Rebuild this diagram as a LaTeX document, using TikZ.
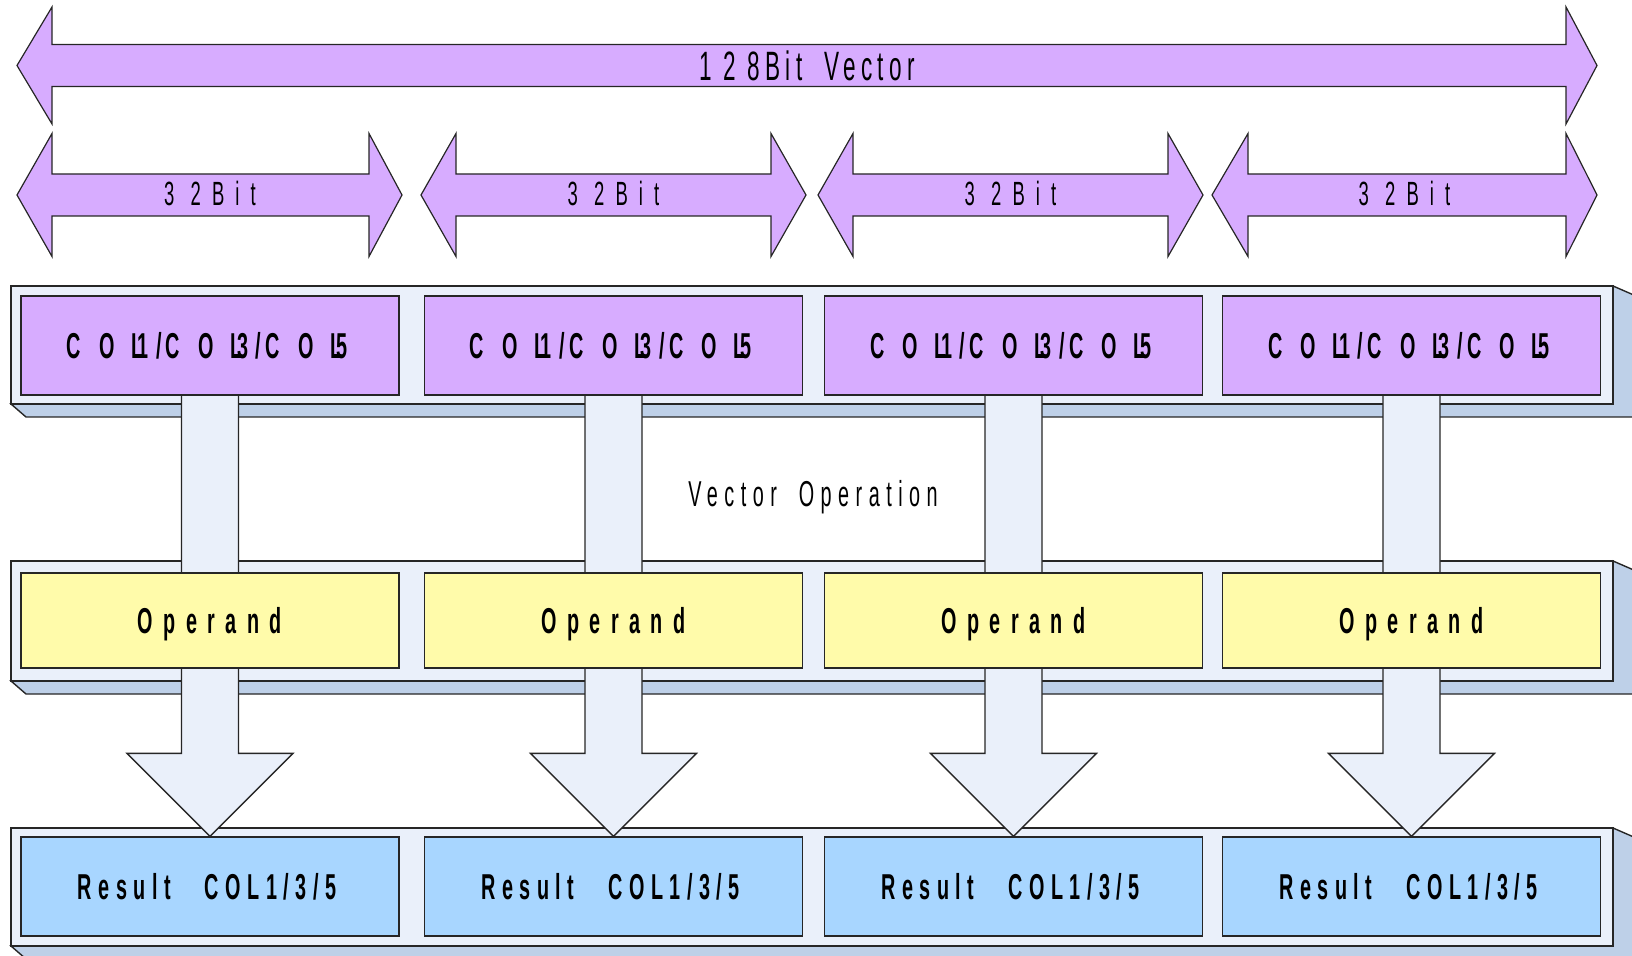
\documentclass[tikz,border=0pt]{standalone}
\usepackage{fontspec}
\newfontfamily\nf[FakeStretch=0.55]{Liberation Sans}
\usetikzlibrary{calc}
\pgfdeclarelayer{back}
\pgfdeclarelayer{mid}
\pgfsetlayers{back,mid,main}
\definecolor{purp}{RGB}{215,172,255}
\definecolor{barc}{RGB}{234,240,250}
\definecolor{depc}{RGB}{190,208,232}
\definecolor{yel}{RGB}{255,251,170}
\definecolor{blu}{RGB}{168,214,255}
\newcommand\tgap[1]{\hspace{#1pt}}
% xl, xbl, xbr, xr, yc, head half height, shaft half height
\newcommand\hdbl[7]{%
  \draw[hbar] (#1,#5) -- (#2,#5-#6) -- (#2,#5-#7) -- (#3,#5-#7) -- (#3,#5-#6) -- (#4,#5)
    -- (#3,#5+#6) -- (#3,#5+#7) -- (#2,#5+#7) -- (#2,#5+#6) -- cycle;}
\newcommand\vbar[2]{%
  \draw[depthst] (11,#2) -- (26,#2+13) -- (1636,#2+13) -- (1636,#1+10) -- (1613,#1) -- (1613,#2) -- cycle;
  \draw[frontst] (11,#1) rectangle (1613,#2);}
\newcommand\colgroup[1]{C\tgap{9.3}O\tgap{8.3}L\kern-3pt#1}
\begin{document}
\begin{tikzpicture}[x=0.5pt,y=-0.5pt,
  outl/.style={draw=black!85,line width=0.7pt},
  hbar/.style={draw=black!85,line width=0.6pt,fill=purp},
  frontst/.style={outl,fill=barc},
  depthst/.style={outl,fill=depc},
  varrow/.style={outl,fill=barc},
  cellbox/.style={outl,minimum width=189pt,inner sep=0pt,text height=12.9pt,text depth=0pt,
    font=\nf\bfseries\fontsize{18}{20}\selectfont},
  colbox/.style={cellbox,fill=purp,minimum height=49.5pt},
  opbox/.style={cellbox,fill=yel,minimum height=47.5pt},
  resbox/.style={cellbox,fill=blu,minimum height=49.5pt},
  bittext/.style={inner sep=0pt,text height=12pt,text depth=0pt,
    font=\nf\fontsize{16.8}{18}\selectfont\addfontfeature{LetterSpace=33}},
  toptext/.style={inner sep=0pt,text height=14.7pt,text depth=0pt,
    font=\nf\fontsize{20.5}{22}\selectfont\addfontfeature{LetterSpace=13}},
  optext/.style={inner sep=0pt,text height=12.9pt,text depth=0pt,
    font=\nf\fontsize{18}{20}\selectfont\addfontfeature{LetterSpace=18}}
]
\useasboundingbox (0,0) rectangle (1632,956);
\clip (0,0) rectangle (1632,956);

% bars
\begin{pgfonlayer}{back}
\vbar{286}{404}
\vbar{561}{681}
\vbar{828}{946}
\end{pgfonlayer}

% horizontal width arrows
\hdbl{17}{52}{1566}{1597}{65.5}{58.5}{21}
\node[toptext] (t128) at (807,66) {1 2 8Bit\tgap{5} Vector};
\hdbl{17}{52}{369}{402}{195}{61.5}{21}
\hdbl{421}{456}{771}{806}{195}{61.5}{21}
\hdbl{818}{853}{1168}{1203}{195}{61.5}{21}
\hdbl{1212}{1248}{1566}{1597}{195}{61.5}{21}
\node[bittext] (b1) at (210,194) {3 2Bit};
\node[bittext] (b2) at (613.5,194) {3 2Bit};
\node[bittext] (b3) at (1010.5,194) {3 2Bit};
\node[bittext] (b4) at (1404.5,194) {3 2Bit};

% cells
\foreach \i/\x in {1/210,2/613.5,3/1013.5,4/1411.5}{
  \node[colbox] (p\i) at (\x,345.5) {\hspace{-3pt}\colgroup{1}\tgap{4}/\tgap{2}\colgroup{3}\tgap{4}/\tgap{2}\colgroup{5}};
  \node[opbox] (o\i) at (\x,620.5) {\addfontfeature{LetterSpace=29}Operand};
  \node[resbox] (r\i) at (\x,886.5) {\addfontfeature{LetterSpace=18}\hspace{-3pt}Result\tgap{11} COL1/3/5};
}
\node[optext] (vop) at (813,494) {Vector\tgap{5} Operation};

% vertical operation arrows
\begin{pgfonlayer}{mid}
\foreach \i in {1,...,4}{
  \draw[varrow] ($(p\i.south)+(-28.5,-10)$) -- ($(r\i.north)+(-28.5,-83)$)
    -- ($(r\i.north)+(-83,-83)$) -- (r\i.north) -- ($(r\i.north)+(83,-83)$)
    -- ($(r\i.north)+(28.5,-83)$) -- ($(p\i.south)+(28.5,-10)$) -- cycle;
}
\end{pgfonlayer}
\end{tikzpicture}
\end{document}
